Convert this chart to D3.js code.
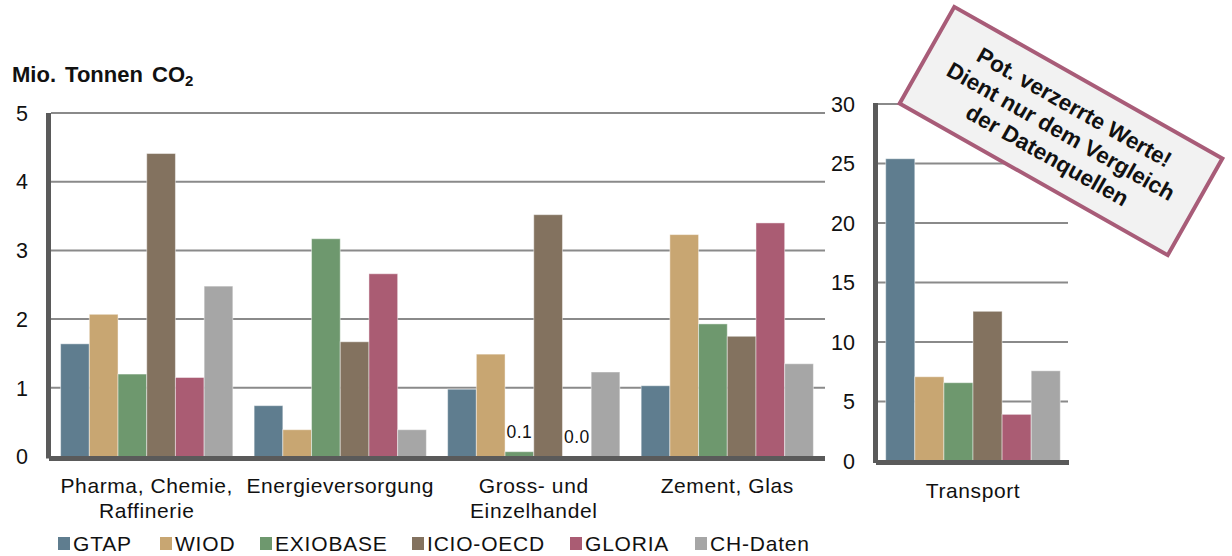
<!DOCTYPE html>
<html>
<head>
<meta charset="utf-8">
<script src="https://cdn.jsdelivr.net/npm/d3@7"></script>
<style>
  html, body { margin: 0; padding: 0; background: #fff; }
  svg { display: block; font-family: "Liberation Sans", Arial, sans-serif; }
</style>
</head>
<body>
<svg id="chart" width="1232" height="556"></svg>
<script>
// Emissions by sector and data source (million tonnes CO2)
const series = ["GTAP", "WIOD", "EXIOBASE", "ICIO-OECD", "GLORIA", "CH-Daten"];
const colors = ["#5f7d8f", "#c8a672", "#6e986e", "#83725f", "#aa5c73", "#a6a6a6"];

const sectors = ["Pharma, Chemie, Raffinerie", "Energieversorgung", "Gross- und Einzelhandel", "Zement, Glas"];
const sectorLines = [["Pharma, Chemie,", "Raffinerie"], ["Energieversorgung"], ["Gross- und", "Einzelhandel"], ["Zement, Glas"]];

// one row per sector, one value per data source
const pharma  = [1.64, 2.07, 1.20, 4.41, 1.15, 2.48];
const energie = [0.74, 0.39, 3.17, 1.67, 2.66, 0.39];
const handel  = [0.98, 1.49, 0.07, 3.52, 0.00, 1.23];
const zement  = [1.03, 3.23, 1.93, 1.75, 3.40, 1.35];
const sectorValues = [pharma, energie, handel, zement];

const transportCategory = ["Transport"];
const transport = [25.4, 7.08, 6.58, 12.58, 3.92, 7.58];

const leftTicks = [0, 1, 2, 3, 4, 5];
const rightTicks = [0, 5, 10, 15, 20, 25, 30];

const noteLines = ["Pot. verzerrte Werte!", "Dient nur dem Vergleich", "der Datenquellen"];

const svg = d3.select("#chart");
const axisColor = "#5a5a5a";
const gridColor = "#8a8a8a";

// ---------- left panel ----------
const x0 = d3.scaleBand().domain(sectors).range([49, 825]).paddingInner(0.11).paddingOuter(0.06);
const x1 = d3.scaleBand().domain(series).range([0, x0.bandwidth()]);
const yL = d3.scaleLinear().domain([0, 5]).range([456.5, 113]);

const left = svg.append("g");

left.selectAll("line.grid").data(leftTicks.filter(t => t > 0)).join("line")
  .attr("x1", 51).attr("x2", 825)
  .attr("y1", d => yL(d)).attr("y2", d => yL(d))
  .attr("stroke", gridColor).attr("stroke-width", 2);

const groups = left.selectAll("g.sector").data(sectors).join("g")
  .attr("transform", d => `translate(${x0(d)},0)`);

groups.selectAll("rect").data((d, i) => sectorValues[i].map((v, j) => ({ s: series[j], v, c: colors[j] })))
  .join("rect")
  .attr("x", d => x1(d.s))
  .attr("width", x1.bandwidth())
  .attr("y", d => yL(d.v))
  .attr("height", d => yL(0) - yL(d.v))
  .attr("fill", d => d.c)
  .attr("stroke", "rgba(255,255,255,0.45)").attr("stroke-width", 1);

// value labels for the bars that are too small to see
const fmt = d3.format(".1f");
groups.selectAll("text.val").data((d, i) => sectorValues[i].map((v, j) => ({ s: series[j], v })).filter(d => d.v < 0.15))
  .join("text")
  .attr("class", "val")
  .attr("x", d => x1(d.s) + x1.bandwidth() / 2)
  .attr("y", d => yL(d.v) - 14)
  .attr("text-anchor", "middle")
  .attr("font-size", 17.5).attr("letter-spacing", 0.5).attr("fill", "#111")
  .text(d => fmt(d.v));

// axes
left.append("rect").attr("x", 46).attr("y", yL(5)).attr("width", 5).attr("height", yL(0) - yL(5) + 2).attr("fill", axisColor);
left.append("rect").attr("x", 49).attr("y", yL(0) - 0.5).attr("width", 776).attr("height", 5).attr("fill", axisColor);

left.selectAll("text.tick").data(leftTicks).join("text")
  .attr("x", 28).attr("y", d => yL(d)).attr("dy", "0.36em")
  .attr("text-anchor", "end").attr("font-size", 21.5).attr("fill", "#111")
  .text(d => d);

left.selectAll("text.cat").data(sectors).join("text")
  .attr("text-anchor", "middle").attr("font-size", 21).attr("letter-spacing", 0.6).attr("fill", "#111")
  .each(function (d, i) {
    const t = d3.select(this);
    sectorLines[i].forEach((line, k) => {
      t.append("tspan").attr("x", x0(d) + x0.bandwidth() / 2).attr("y", 493 + k * 25).text(line);
    });
  });

// title
const title = svg.append("text").attr("x", 12).attr("y", 82)
  .attr("font-size", 22).attr("font-weight", "bold").attr("fill", "#111").attr("word-spacing", 3);
title.append("tspan").text("Mio. Tonnen CO");
title.append("tspan").attr("font-size", 15).attr("dy", 4).text("2");

// ---------- right panel ----------
const xR = d3.scaleBand().domain(transportCategory).range([876, 1070]).paddingInner(0.1).paddingOuter(0.05);
const xR1 = d3.scaleBand().domain(series).range([0, xR.bandwidth()]);
const yR = d3.scaleLinear().domain([0, 30]).range([461, 104]);

const right = svg.append("g");

right.selectAll("line.grid").data(rightTicks.filter(t => t > 0)).join("line")
  .attr("x1", 878).attr("x2", 1068)
  .attr("y1", d => yR(d)).attr("y2", d => yR(d))
  .attr("stroke", gridColor).attr("stroke-width", 2);

right.append("g").attr("transform", `translate(${xR("Transport")},0)`)
  .selectAll("rect").data(transport.map((v, j) => ({ s: series[j], v, c: colors[j] })))
  .join("rect")
  .attr("x", d => xR1(d.s))
  .attr("width", xR1.bandwidth())
  .attr("y", d => yR(d.v))
  .attr("height", d => yR(0) - yR(d.v))
  .attr("fill", d => d.c)
  .attr("stroke", "rgba(255,255,255,0.45)").attr("stroke-width", 1);

right.append("rect").attr("x", 873).attr("y", yR(30) - 1).attr("width", 5).attr("height", yR(0) - yR(30) + 3).attr("fill", axisColor);
right.append("rect").attr("x", 876).attr("y", yR(0) - 1).attr("width", 193).attr("height", 5).attr("fill", axisColor);

right.selectAll("text.tick").data(rightTicks).join("text")
  .attr("x", 855).attr("y", d => yR(d)).attr("dy", "0.36em")
  .attr("text-anchor", "end").attr("font-size", 21.5).attr("fill", "#111")
  .text(d => d);

right.append("text")
  .attr("x", xR("Transport") + xR.bandwidth() / 2).attr("y", 498)
  .attr("text-anchor", "middle").attr("font-size", 21).attr("letter-spacing", 0.6).attr("fill", "#111")
  .text("Transport");

// ---------- legend ----------
const legendX = [58, 160, 260, 412, 570, 695];
const legend = svg.append("g").selectAll("g").data(series).join("g")
  .attr("transform", (d, i) => `translate(${legendX[i]},537)`);
legend.append("rect").attr("width", 12).attr("height", 13).attr("fill", (d, i) => colors[i]);
legend.append("text").attr("x", 15).attr("y", 14)
  .attr("font-size", 21).attr("letter-spacing", 0.8).attr("fill", "#111")
  .text(d => d);

// ---------- rotated note ----------
const note = svg.append("g").attr("transform", "translate(1061,131) rotate(29.5)");
note.append("rect").attr("x", -154).attr("y", -55.5).attr("width", 308).attr("height", 111)
  .attr("fill", "#f2f2f2").attr("stroke", "#a85c78").attr("stroke-width", 4);
note.selectAll("text").data(noteLines).join("text")
  .attr("x", 0).attr("y", (d, i) => (i - 1) * 27.5).attr("dy", "0.36em")
  .attr("text-anchor", "middle").attr("font-size", 22.5).attr("font-weight", "bold").attr("fill", "#111")
  .text(d => d);
</script>
</body>
</html>
